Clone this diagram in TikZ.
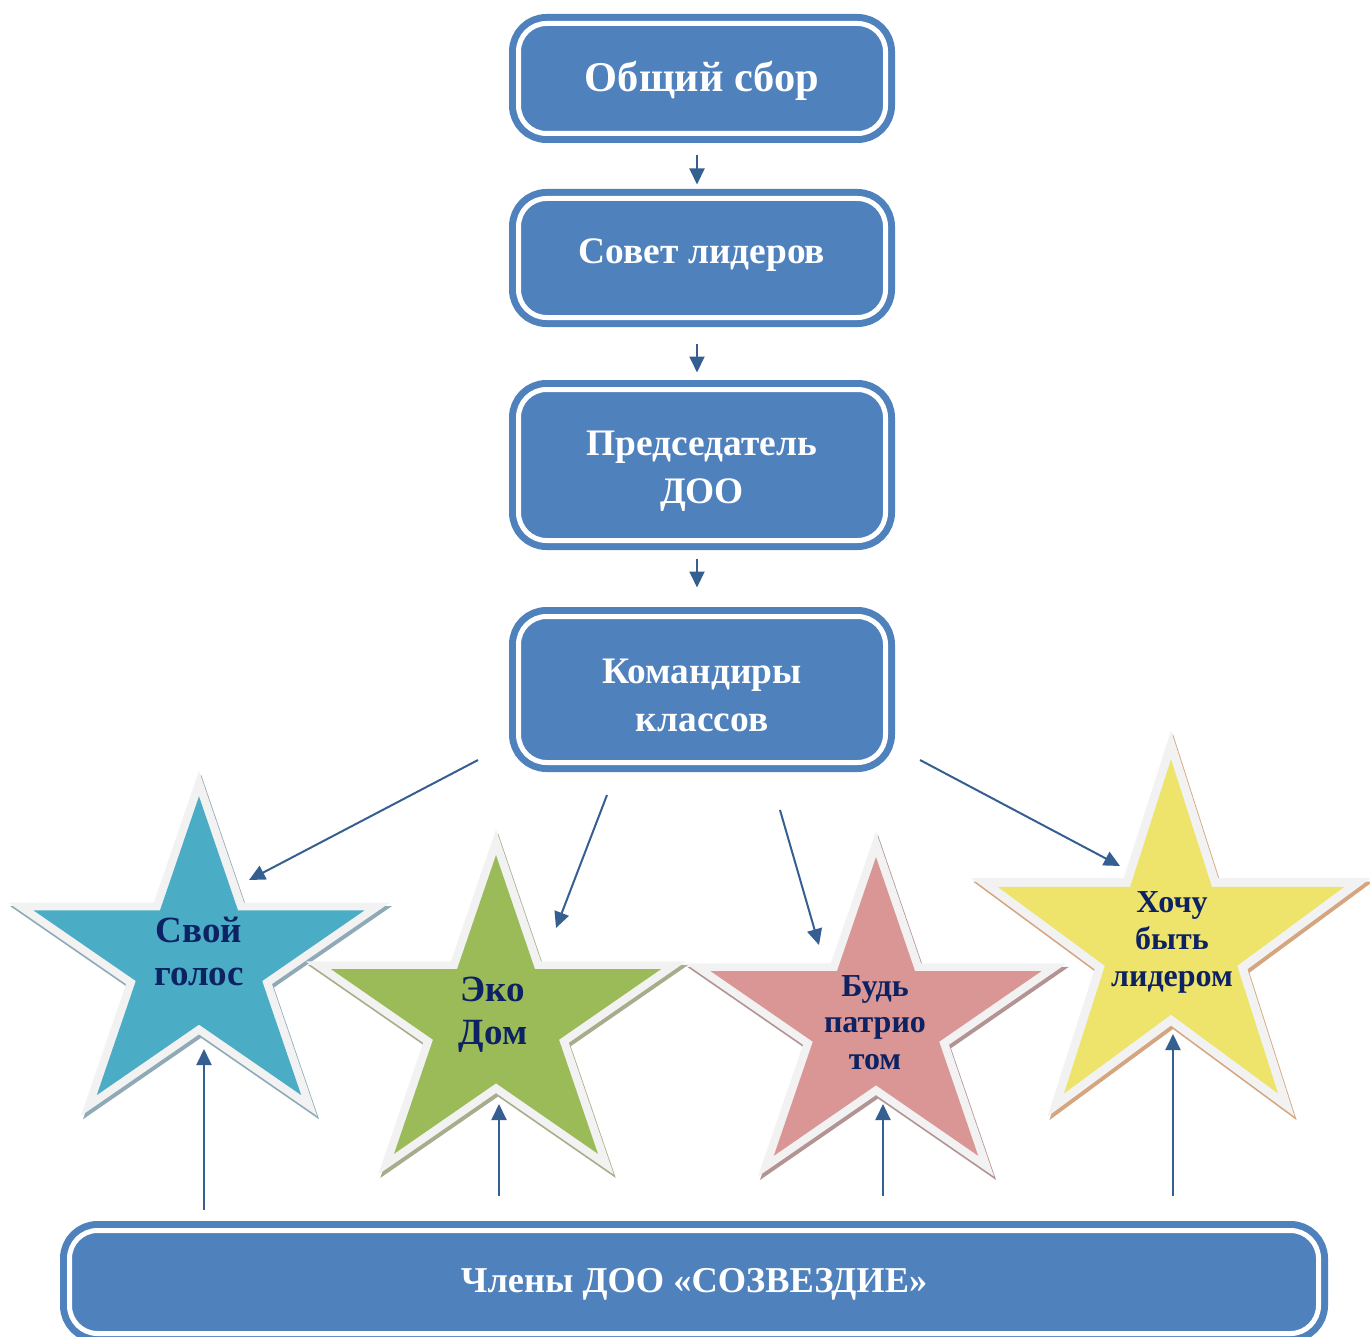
\documentclass[tikz,border=0pt]{standalone}
\usepackage{fontspec}
\setmainfont{Liberation Serif}
\usetikzlibrary{arrows.meta}
\definecolor{boxblue}{HTML}{4F81BD}
\definecolor{arrowblue}{HTML}{365F91}
\definecolor{navy}{HTML}{0C2262}
\definecolor{starbord}{HTML}{F2F2F2}
\definecolor{cA}{HTML}{4BACC6}\definecolor{hA}{HTML}{8FAAB6}
\definecolor{cB}{HTML}{9BBB59}\definecolor{hB}{HTML}{A7AD8A}
\definecolor{cC}{HTML}{D99694}\definecolor{hC}{HTML}{B39393}
\definecolor{cD}{HTML}{EEE46C}\definecolor{hD}{HTML}{D4A57E}
% #1 cx, #2 cy, #3 Rx, #4 Ry, #5 scale, #6 colour
\newcommand\starfill[6]{%
  \fill[#6] plot[samples at={0,...,9}]
    ({#1+#5*(0.691+0.309*cos(180*\x))*#3*cos(90+36*\x)},
     {#2-#5*(0.691+0.309*cos(180*\x))*#4*sin(90+36*\x)}) -- cycle;}
\newcommand\fullstar[5]{% cx cy Rx Ry key
  \starfill{#1+2}{#2+3.5}{#3}{#4}{1}{h#5}
  \starfill{#1}{#2}{#3}{#4}{1}{starbord}
  \starfill{#1}{#2}{#3}{#4}{0.866}{c#5}}
\tikzset{
  fancybox/.style={rectangle, rounded corners=14pt, fill=boxblue, draw=boxblue,
    double=white, double distance=2.5pt, line width=3.5pt, text=white,
    align=center, inner sep=0pt, minimum width=183.5pt},
  startext/.style={text=navy, align=center, inner sep=0pt},
  arr/.style={draw=arrowblue, line width=1pt, -{Triangle[length=8pt,width=7.5pt]}}
}
\begin{document}
\begin{tikzpicture}[x=0.5pt,y=-0.5pt]
\useasboundingbox (0,0) rectangle (1370,1337);
\clip (0,0) rectangle (1370,1337);

% stars
\fullstar{199}{961.5}{200.8}{190.7}{A}
\fullstar{496}{1020.2}{200.3}{190.7}{B}
\fullstar{876}{1022.2}{200.8}{190.7}{C}
\fullstar{1171}{944}{210.3}{213.4}{D}

\node[startext, font=\fontsize{18.5}{21.5}\selectfont\bfseries] (s1) at (199,951.5) {Свой\\голос};
\node[startext, font=\fontsize{18.5}{21.5}\selectfont\bfseries] (s2) at (493,1015) {Эко\\Дом};
\node[startext, font=\fontsize{16}{18.25}\selectfont\bfseries] (s3) at (875,1022.5) {Будь\\патрио\\том};
\node[startext, font=\fontsize{16}{18.5}\selectfont\bfseries] (s4) at (1172,942.5) {Хочу\\быть\\лидером};

% boxes
\node[fancybox, minimum height=55pt, text height=18pt, text depth=4.8pt,
      font=\fontsize{21.2}{26}\selectfont\bfseries] (b1) at (702,78.5) {Общий сбор};
\node[fancybox, minimum height=59.5pt, text height=11.9pt, text depth=6pt,
      font=\fontsize{18.7}{24}\selectfont\bfseries] (b2) at (702,258) {Совет лидеров};
\node[fancybox, minimum height=75.5pt, font=\fontsize{18.7}{24}\selectfont\bfseries] (b3) at (702,465)
      {\rule{0pt}{18.6pt}Председатель\\ДОО};
\node[fancybox, minimum height=73pt, font=\fontsize{18.7}{24}\selectfont\bfseries] (b4) at (702,689.5)
      {\rule{0pt}{18.6pt}Командиры\\классов};
\node[fancybox, minimum width=624.5pt, minimum height=51.5pt, text height=14pt, text depth=3.7pt,
      font=\fontsize{18.2}{24}\selectfont\bfseries] (m) at (694,1282) {Члены ДОО «СОЗВЕЗДИЕ»};

% connector end points
\coordinate (a1s) at (478,760);  \coordinate (a1e) at (249,880);
\coordinate (a2s) at (607,795);  \coordinate (a2e) at (556,928);
\coordinate (a3s) at (780,810);  \coordinate (a3e) at (819,945);
\coordinate (a4s) at (920,760);  \coordinate (a4e) at (1120,866);
\coordinate (u1s) at (204,1210); \coordinate (u1e) at (204,1049);
\coordinate (u2s) at (499,1196); \coordinate (u2e) at (499,1104);
\coordinate (u3s) at (883,1196); \coordinate (u3e) at (883,1104);
\coordinate (u4s) at (1173,1196); \coordinate (u4e) at (1173,1034);

% arrows between boxes
\draw[arr] ([xshift=-2.5pt,yshift=-9.25pt]b1.south) -- ([xshift=-2.5pt,yshift=5.25pt]b2.north);
\draw[arr] ([xshift=-2.5pt,yshift=-11.25pt]b2.south) -- ([xshift=-2.5pt,yshift=6.75pt]b3.north);
\draw[arr] ([xshift=-2.5pt,yshift=-7.25pt]b3.south) -- ([xshift=-2.5pt,yshift=12.75pt]b4.north);

% arrows to stars
\draw[arr] (a1s) -- (a1e);
\draw[arr] (a2s) -- (a2e);
\draw[arr] (a3s) -- (a3e);
\draw[arr] (a4s) -- (a4e);
\draw[arr] (u1s) -- (u1e);
\draw[arr] (u2s) -- (u2e);
\draw[arr] (u3s) -- (u3e);
\draw[arr] (u4s) -- (u4e);
\end{tikzpicture}
\end{document}
